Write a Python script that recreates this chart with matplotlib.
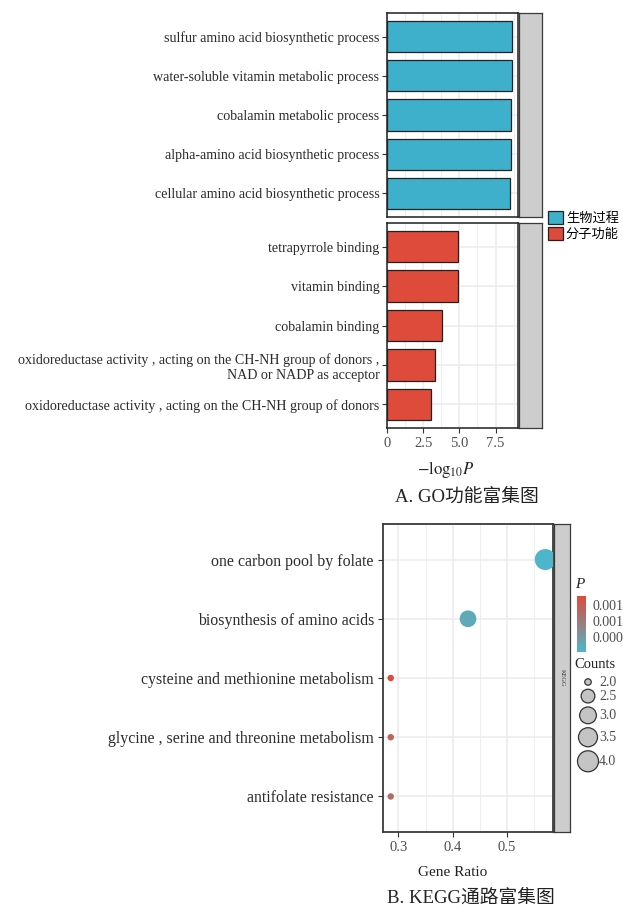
import numpy as np
import matplotlib
matplotlib.use("Agg")
import matplotlib.pyplot as plt
import matplotlib.patches as mpatches
from matplotlib.colors import LinearSegmentedColormap, Normalize
from matplotlib.cm import ScalarMappable

# ── fonts ─────────────────────────────────────────────────────────────────────
SERIF = ["Liberation Serif", "DejaVu Serif"]
MIXED = ["Liberation Serif", "Noto Sans CJK SC", "DejaVu Serif"]
plt.rcParams["font.family"] = SERIF
plt.rcParams["mathtext.fontset"] = "stix"

# ── data: GO ──────────────────────────────────────────────────────────────────
go_bp_terms = [
    "sulfur amino acid biosynthetic process",
    "water-soluble vitamin metabolic process",
    "cobalamin metabolic process",
    "alpha-amino acid biosynthetic process",
    "cellular amino acid biosynthetic process",
]
go_bp_values = [8.62, 8.61, 8.60, 8.60, 8.53]

go_mf_terms = [
    "tetrapyrrole binding",
    "vitamin binding",
    "cobalamin binding",
    "oxidoreductase activity , acting on the CH-NH group of donors ,\nNAD or NADP as acceptor",
    "oxidoreductase activity , acting on the CH-NH group of donors",
]
go_mf_values = [4.92, 4.92, 3.81, 3.35, 3.07]

go_groups = ["生物过程", "分子功能"]
go_xticks = [0, 2.5, 5.0, 7.5]
go_xticklabels = ["0", "2.5", "5.0", "7.5"]

# ── data: KEGG ────────────────────────────────────────────────────────────────
kegg_terms = [
    "one carbon pool by folate",
    "biosynthesis of amino acids",
    "cysteine and methionine metabolism",
    "glycine , serine and threonine metabolism",
    "antifolate resistance",
]
kegg_ratio = [4 / 7, 3 / 7, 2 / 7, 2 / 7, 2 / 7]
kegg_counts = [4, 3, 2, 2, 2]
kegg_p = [0.00002, 0.0002, 0.00142, 0.00112, 0.00100]
kegg_xticks = [0.3, 0.4, 0.5]
p_ticks = [0.0004, 0.0008, 0.0012]
count_breaks = [2.0, 2.5, 3.0, 3.5, 4.0]

# ── palette ───────────────────────────────────────────────────────────────────
BLUE = "#3FB0CB"
RED = "#DE4B3B"
GRID = "#EBEBEB"
BORDER = "#1E1E1E"
STRIP = "#CDCDCD"
TICKTXT = "#4D4D4D"
LABTXT = "#2B2B2B"

W, H = 623, 909
fig = plt.figure(figsize=(W / 100, H / 100), dpi=100, facecolor="white")


def px_axes(x0, y0, x1, y1):
    """axes from pixel box (top-left origin)"""
    return fig.add_axes([x0 / W, 1 - y1 / H, (x1 - x0) / W, (y1 - y0) / H])


def style_panel(ax, lw=1.1, col=BORDER):
    for sp in ax.spines.values():
        sp.set_edgecolor(col)
        sp.set_linewidth(lw)
    ax.set_axisbelow(True)
    ax.grid(True, which="major", color=GRID, linewidth=1.1)
    ax.grid(True, which="minor", color=GRID, linewidth=0.6)


def strip(x0, y0, x1, y1, text=None):
    s = px_axes(x0, y0, x1, y1)
    s.set_facecolor(STRIP)
    s.set_xticks([])
    s.set_yticks([])
    for sp in s.spines.values():
        sp.set_edgecolor("#3A3A3A")
        sp.set_linewidth(0.9)
    if text:
        s.text(0.5, 0.5, text, rotation=-90, ha="center", va="center",
               fontsize=4.5, color="#333333", transform=s.transAxes)
    return s


# ── GO panels ─────────────────────────────────────────────────────────────────
go_xmax = max(go_bp_values + go_mf_values) * 1.05
panels = [
    (go_bp_terms, go_bp_values, BLUE, (387, 13, 518, 217)),
    (go_mf_terms, go_mf_values, RED, (387, 223, 518, 428)),
]
for i, (terms, vals, col, box) in enumerate(panels):
    ax = px_axes(*box)
    y = np.arange(len(terms))
    ax.barh(y, vals, height=0.8, color=col, edgecolor="#222222",
            linewidth=0.9, zorder=3)
    ax.set_ylim(len(terms) - 0.4, -0.6)
    ax.set_xlim(0, go_xmax)
    ax.set_yticks(y)
    ax.set_yticklabels(terms, fontsize=10.05, color=LABTXT,
                       multialignment="right", linespacing=1.25)
    ax.set_xticks(go_xticks)
    ax.set_xticks([v + 1.25 for v in go_xticks], minor=True)
    ax.tick_params(axis="y", length=3.5, width=0.8, color="#333333", pad=2)
    ax.tick_params(axis="x", which="minor", length=0)
    style_panel(ax)
    if i == 0:
        ax.tick_params(axis="x", which="major", length=0, labelbottom=False)
    else:
        ax.set_xticklabels(go_xticklabels, fontsize=10.5, color=TICKTXT)
        ax.tick_params(axis="x", which="major", length=3.5, width=0.8,
                       color="#333333", pad=3)
    strip(519, box[1], 542, box[3])

fig.text(446 / W, 1 - 469 / H, r"$-\mathrm{log}_{10}\mathit{P}$",
         ha="center", va="center", fontsize=12, color="#222222")
fig.text(467 / W, 1 - 497 / H, "A. GO功能富集图", ha="center", va="center",
         fontsize=13.5, family=MIXED, color="#222222")

go_handles = [mpatches.Patch(facecolor=c, edgecolor="#222222", linewidth=0.9)
              for c in (BLUE, RED)]
fig.legend(go_handles, go_groups, loc="upper left",
           bbox_to_anchor=(548 / W, 1 - 211 / H), frameon=False,
           prop={"family": "Noto Sans CJK SC", "size": 9.5},
           handlelength=1.1, handleheight=1.15, handletextpad=0.25,
           labelspacing=0.15, borderpad=0, borderaxespad=0)

# ── KEGG panel ────────────────────────────────────────────────────────────────
cmap = LinearSegmentedColormap.from_list("p", ["#4DB6CA", RED])
norm = Normalize(vmin=min(kegg_p), vmax=max(kegg_p))

cmin, cmax = min(kegg_counts), max(kegg_counts)


def count_to_s(c):
    # ggplot-like area scale, diameter in px -> marker area in pt^2
    t = (np.asarray(c, dtype=float) - cmin) / (cmax - cmin)
    size = 1.5 + 4.5 * np.sqrt(t)
    d_px = 21 * (size + 0.5) / 6.5
    return (d_px * 0.72) ** 2


kx0, ky0, kx1, ky1 = 383, 524, 553, 832
ax = px_axes(kx0, ky0, kx1, ky1)
yk = np.arange(len(kegg_terms))
ax.scatter(kegg_ratio, yk, s=count_to_s(kegg_counts), c=kegg_p, cmap=cmap,
           norm=norm, linewidths=0, zorder=3, clip_on=True)
span = max(kegg_ratio) - min(kegg_ratio)
ax.set_xlim(min(kegg_ratio) - 0.05 * span, max(kegg_ratio) + 0.05 * span)
ax.set_ylim(len(kegg_terms) - 0.4, -0.6)
ax.set_yticks(yk)
ax.set_yticklabels(kegg_terms, fontsize=11.4, color=LABTXT)
ax.set_xticks(kegg_xticks)
ax.set_xticklabels([f"{v:.1f}" for v in kegg_xticks], fontsize=10.5,
                   color=TICKTXT)
ax.set_xticks([v + 0.05 for v in kegg_xticks], minor=True)
ax.tick_params(axis="both", which="major", length=3.5, width=0.8,
               color="#333333", pad=3)
ax.tick_params(axis="x", which="minor", length=0)
style_panel(ax, lw=1.3, col="#3A3A3A")
strip(554, ky0, 570, ky1, "KEGG")

fig.text(453 / W, 1 - 873 / H, "Gene Ratio", ha="center", va="center",
         fontsize=11, color="#222222")
fig.text(471 / W, 1 - 898 / H, "B. KEGG通路富集图", ha="center", va="center",
         fontsize=13.5, family=MIXED, color="#222222")

# colour legend
fig.text(575 / W, 1 - 584 / H, "P", ha="left", va="center", fontsize=11,
         style="italic", color="#222222")
cax = px_axes(577, 596, 586, 652)
cb = fig.colorbar(ScalarMappable(norm=norm, cmap=cmap), cax=cax,
                  ticks=p_ticks)
cb.outline.set_visible(False)
cb.ax.set_yticklabels([f"{v:.3f}" for v in p_ticks])
cb.ax.tick_params(length=2.5, width=0.6, color="white", pad=2,
                  labelsize=10, labelcolor=TICKTXT)

# size legend
fig.text(574 / W, 1 - 664 / H, "Counts", ha="left", va="center",
         fontsize=10.5, color="#222222")
sizes = count_to_s(count_breaks)
diam = np.sqrt(sizes) / 0.72
ypos = [682.0]
for a, b in zip(diam[:-1], diam[1:]):
    ypos.append(ypos[-1] + max(14, (a + b) / 2 + 4))
lax = px_axes(575, 672, 623, 780)
lax.set_xlim(575, 623)
lax.set_ylim(780, 672)
lax.axis("off")
lax.scatter([588] * len(count_breaks), ypos, s=sizes, facecolor="#C4C4C4",
            edgecolor="#333333", linewidths=0.9, clip_on=False)
for yv, b in zip(ypos, count_breaks):
    lax.text(599, yv, f"{b:.1f}", ha="left", va="center", fontsize=10,
             color=TICKTXT)

fig.savefig("out.png", dpi=100, facecolor="white")
